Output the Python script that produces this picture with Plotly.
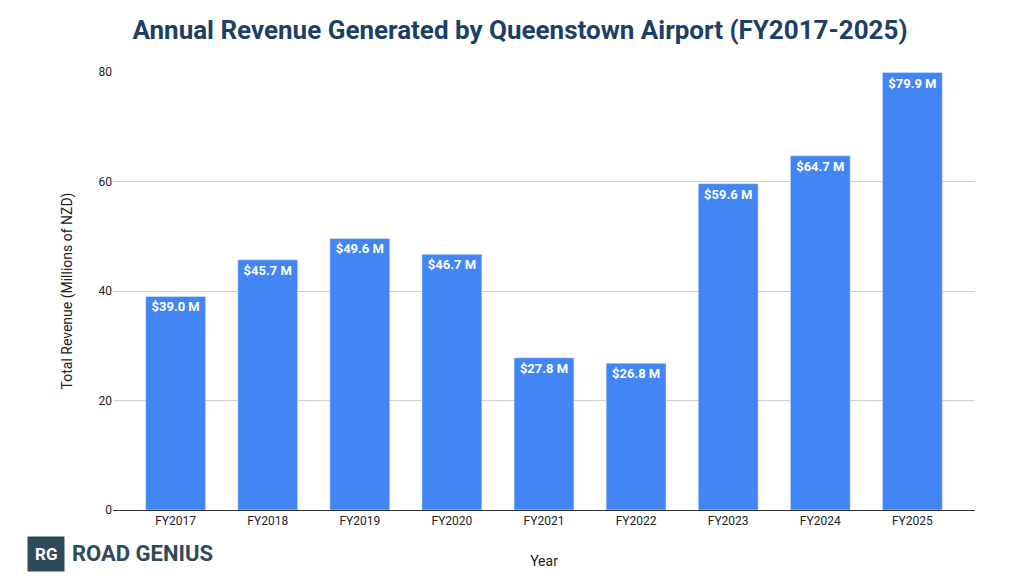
import plotly.graph_objects as go

years = ["FY2017", "FY2018", "FY2019", "FY2020", "FY2021", "FY2022", "FY2023", "FY2024", "FY2025"]
revenue = [39.0, 45.7, 49.6, 46.7, 27.8, 26.8, 59.6, 64.7, 79.9]
labels = ["$%.1f M" % v for v in revenue]

fig = go.Figure([go.Bar(
    x=years, y=revenue, text=labels, textposition="inside",
    insidetextanchor="end", marker_color="#4285F4", width=0.65,
    textfont=dict(color="white", size=13, family="Roboto", weight="bold"),
)])

fig.update_layout(
    width=1024, height=582,
    paper_bgcolor="white", plot_bgcolor="white",
    margin=dict(l=105, r=57, t=64, b=80),
    font=dict(family="Roboto", color="#222"),
    title=dict(text="<b>Annual Revenue Generated by Queenstown Airport (FY2017-2025)</b>",
               x=0.5, xanchor="center", y=0.962, yanchor="middle",
               font=dict(size=26, color="#1c3f66")),
    showlegend=False,
)
fig.update_xaxes(title_text="Year", title_font=dict(size=14), tickfont=dict(size=12),
                 showline=True, linecolor="#333", linewidth=1, ticks="",
                 range=[-0.68, 8.68], automargin=False, title_standoff=28)
fig.update_yaxes(title_text="Total Revenue (Millions of NZD)", title_font=dict(size=14),
                 tickfont=dict(size=12), range=[0, 80], dtick=20,
                 gridcolor="#d0d0d0", zeroline=False, automargin=False, title_standoff=22)

# logo
fig.add_annotation(text="<b>RG</b>", xref="paper", yref="paper",
                   x=-0.1, y=-0.1, xanchor="left", yanchor="middle", showarrow=False,
                   font=dict(size=17, color="white"), bgcolor="#2f4a5a", borderpad=7)
fig.add_annotation(text="<b>ROAD GENIUS</b>", xref="paper", yref="paper",
                   x=-0.05, y=-0.1, xanchor="left", yanchor="middle", showarrow=False,
                   font=dict(size=22, color="#2f4a5a"))

fig.write_html("out.html")
